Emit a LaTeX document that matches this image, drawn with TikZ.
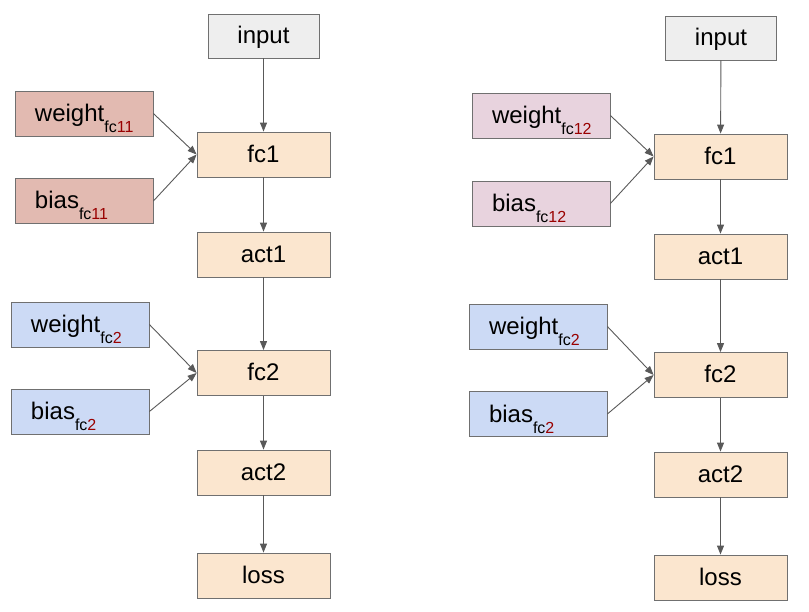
\documentclass[tikz,border=0pt]{standalone}
\usepackage{fontspec}
\setmainfont{Liberation Sans}
\usetikzlibrary{arrows.meta}
\definecolor{bordergray}{HTML}{707070}
\definecolor{arrowgray}{HTML}{595959}
\definecolor{inputfill}{HTML}{EEEEEE}
\definecolor{opfill}{HTML}{FBE6CF}
\definecolor{redfill}{HTML}{E2BAB1}
\definecolor{pinkfill}{HTML}{E8D3DE}
\definecolor{bluefill}{HTML}{CCDAF5}
\definecolor{subred}{HTML}{990000}
\newcommand{\paramlabel}[2]{\makebox[138pt][l]{\hspace{20pt}#1\raisebox{-11pt}{\fontsize{16}{16}\selectfont fc\textcolor{subred}{#2}}}}
\begin{document}
\begin{tikzpicture}[x=1pt,y=-1pt,
 every node/.style={font=\fontsize{24}{28}\selectfont},
 blk/.style={draw=bordergray, line width=0.8pt, rectangle, inner sep=0pt, minimum height=45pt, text height=16pt, text depth=0pt},
 opbox/.style={blk, fill=opfill, minimum width=133pt},
 inbox/.style={blk, fill=inputfill, minimum width=111pt, minimum height=44pt},
 parbox/.style={blk, minimum width=138pt},
 arr/.style={draw=arrowgray, line width=0.9pt, -{Triangle[length=9pt,width=7pt]}}]
\useasboundingbox (0,0) rectangle (809,612);
% left column
\node[inbox] (inL) at (263.5,36) {input\hspace{9pt}};
\node[opbox] (fc1L) at (263.5,154.5) {fc1};
\node[opbox] (act1L) at (263.5,254.5) {act1};
\node[opbox] (fc2L) at (263.5,373) {fc2};
\node[opbox] (act2L) at (263.5,472.5) {act2};
\node[opbox] (lossL) at (263.5,575.5) {loss};
\node[parbox, fill=redfill] (wL1) at (84,113.5) {\paramlabel{weight}{11}};
\node[parbox, fill=redfill] (bL1) at (84,201) {\paramlabel{bias}{11}};
\node[parbox, fill=bluefill] (wL2) at (80,324.5) {\paramlabel{weight}{2}};
\node[parbox, fill=bluefill] (bL2) at (80,411.5) {\paramlabel{bias}{2}};
% right column
\node[inbox] (inR) at (721,38) {input\hspace{9pt}};
\node[opbox] (fc1R) at (720.5,156.5) {fc1};
\node[opbox] (act1R) at (720.5,256.5) {act1};
\node[opbox] (fc2R) at (720.5,375) {fc2};
\node[opbox] (act2R) at (720.5,474.5) {act2};
\node[opbox] (lossR) at (720.5,577.5) {loss};
\node[parbox, fill=pinkfill] (wR1) at (541,115.5) {\paramlabel{weight}{12}};
\node[parbox, fill=pinkfill] (bR1) at (541,203.5) {\paramlabel{bias}{12}};
\node[parbox, fill=bluefill] (wR2) at (538,326.5) {\paramlabel{weight}{2}};
\node[parbox, fill=bluefill] (bR2) at (538,414) {\paramlabel{bias}{2}};
% arrows left
\draw[arr] (inL) -- (fc1L);
\draw[arr] (fc1L) -- (act1L);
\draw[arr] (act1L) -- (fc2L);
\draw[arr] (fc2L) -- (act2L);
\draw[arr] (act2L) -- (lossL);
\draw[arr] (wL1.east) -- (fc1L.west);
\draw[arr] (bL1.east) -- (fc1L.west);
\draw[arr] (wL2.east) -- (fc2L.west);
\draw[arr] (bL2.east) -- (fc2L.west);
% arrows right
\draw[arr] (inR) -- (fc1R);
\draw[arr] (fc1R) -- (act1R);
\draw[arr] (act1R) -- (fc2R);
\draw[arr] (fc2R) -- (act2R);
\draw[arr] (act2R) -- (lossR);
\draw[arr] (wR1.east) -- (fc1R.west);
\draw[arr] (bR1.east) -- (fc1R.west);
\draw[arr] (wR2.east) -- (fc2R.west);
\draw[arr] (bR2.east) -- (fc2R.west);
\end{tikzpicture}
\end{document}
